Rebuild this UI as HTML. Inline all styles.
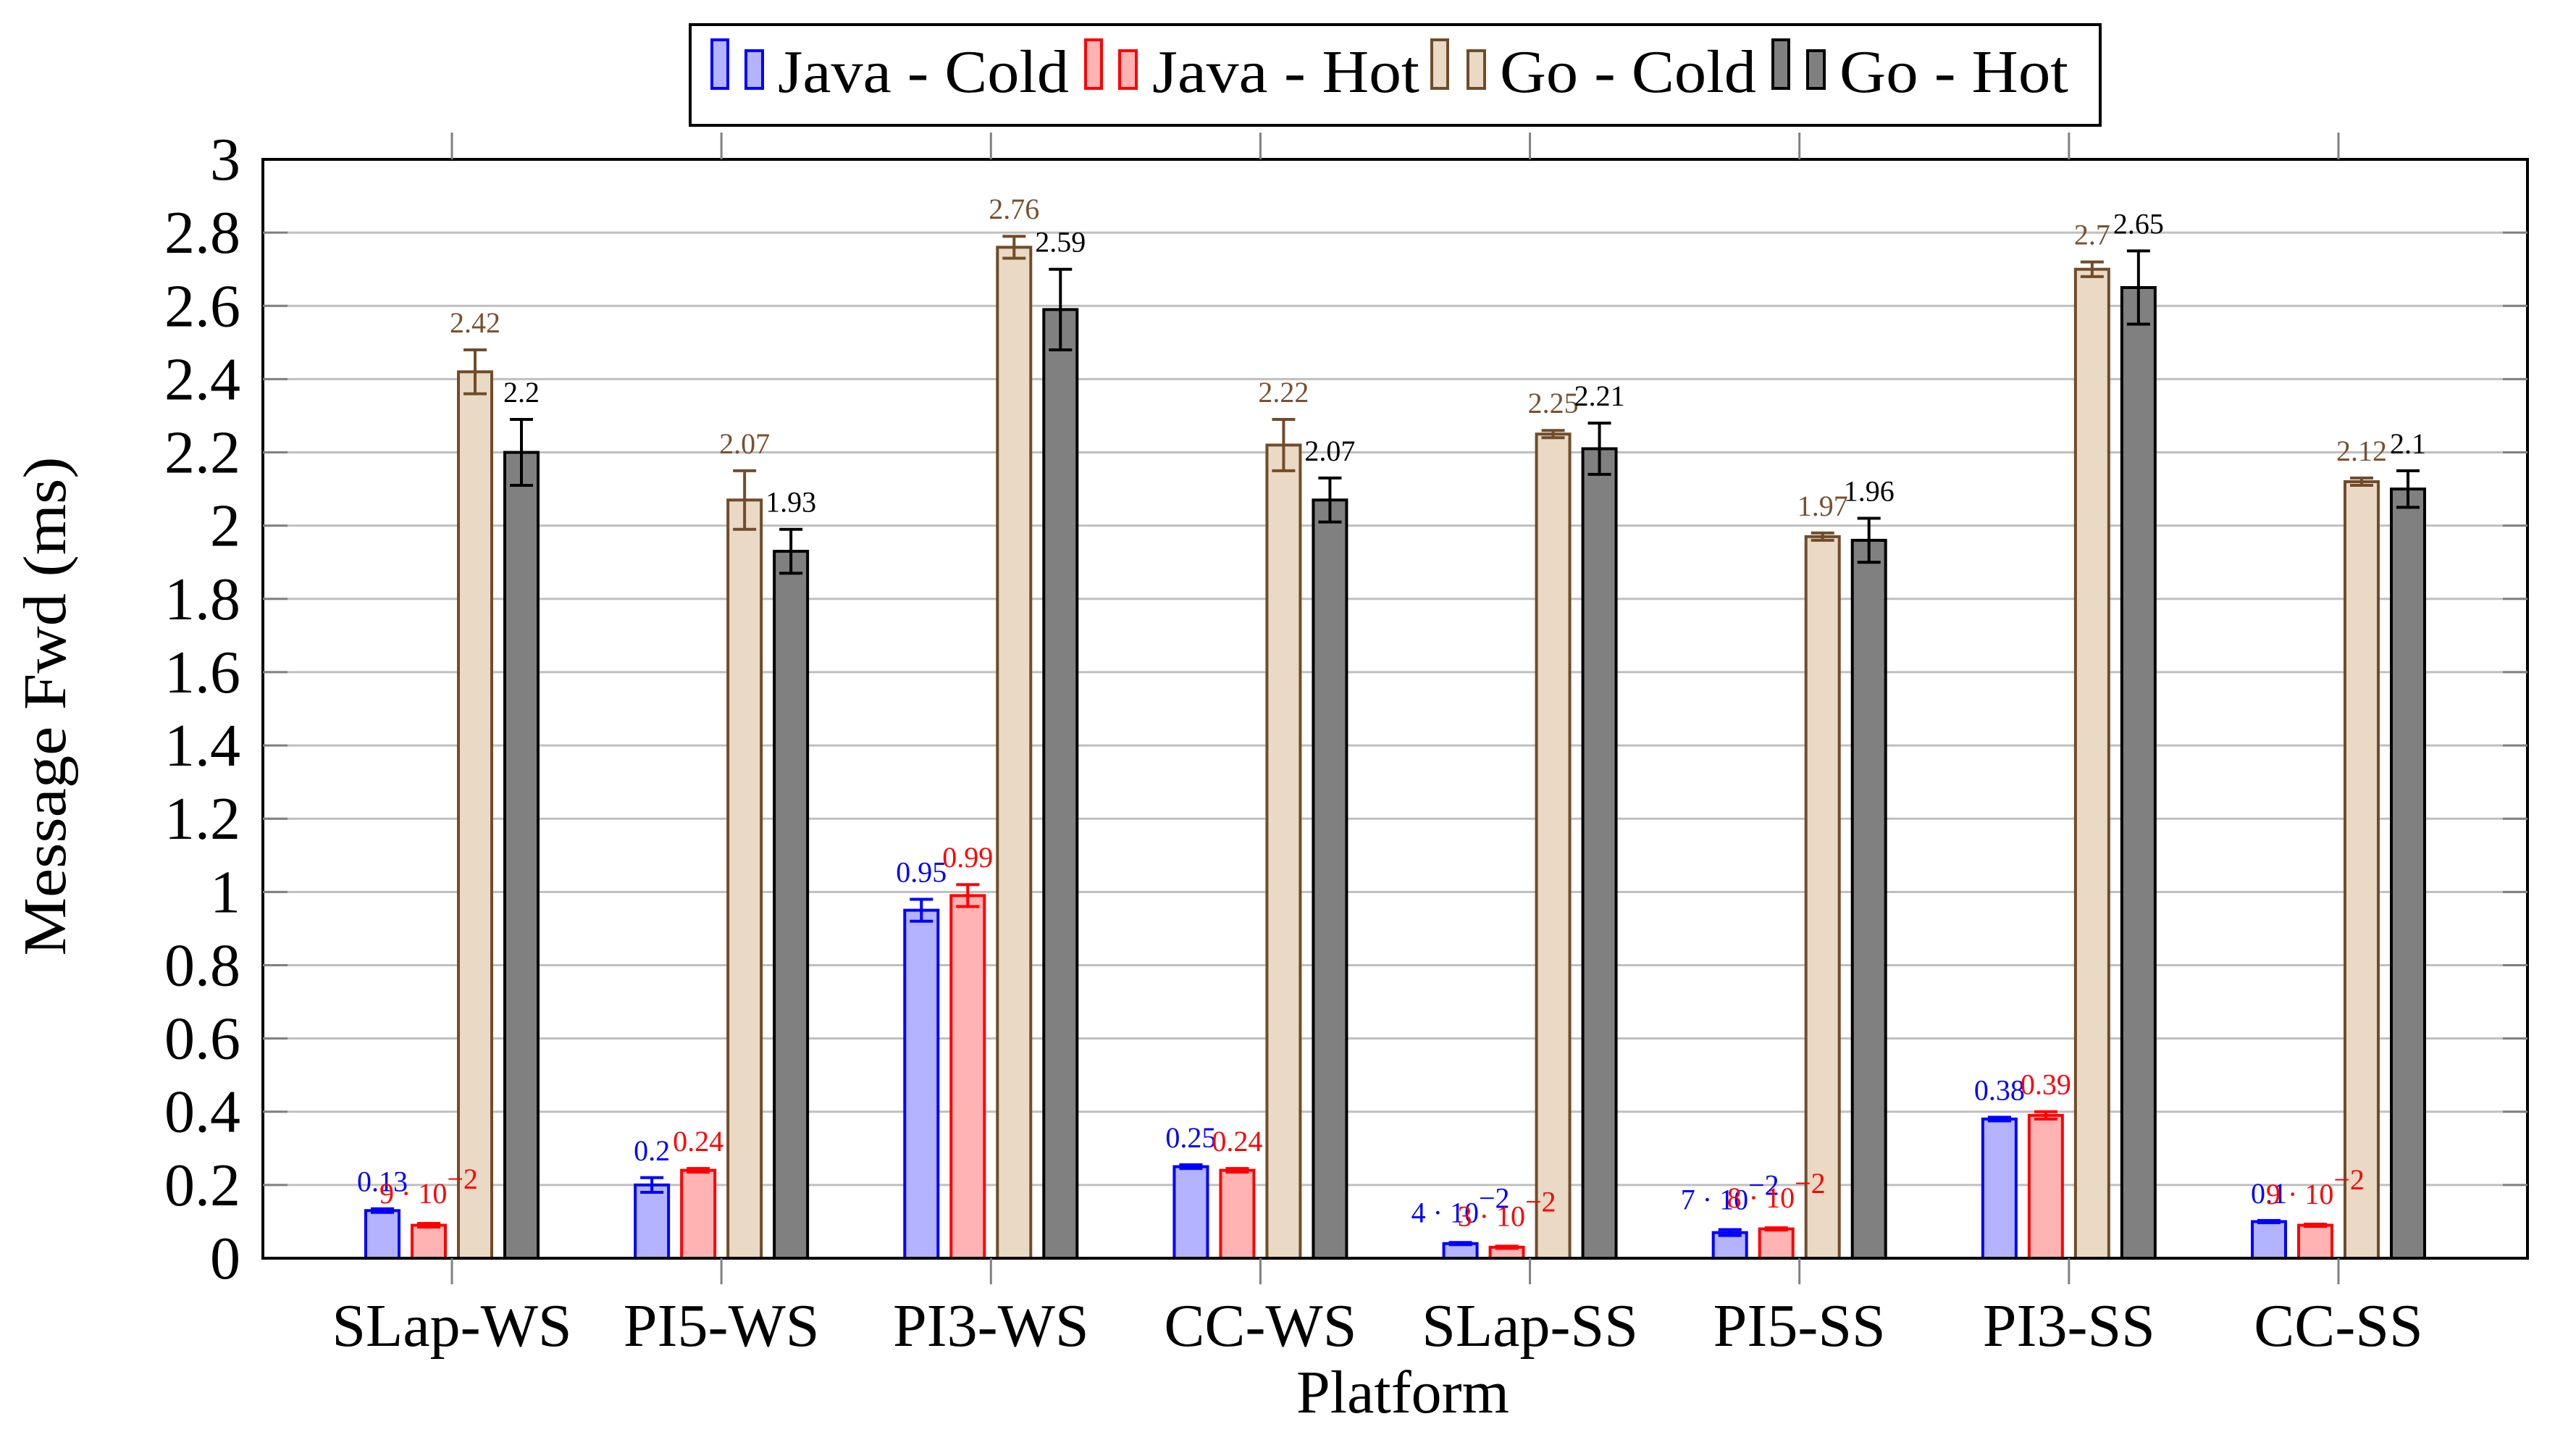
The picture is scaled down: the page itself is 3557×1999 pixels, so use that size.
<!DOCTYPE html>
<html><head><meta charset="utf-8"><style>
html,body{margin:0;padding:0;background:#fff}
svg{display:block;font-family:"Liberation Serif",serif}
</style></head><body>
<svg id="chart" width="3557" height="1999" viewBox="0 0 3557 1999" xmlns="http://www.w3.org/2000/svg">
<g id="grid"></g>
<g id="bars"></g>
<g id="labels"></g>
<rect x="363" y="220" width="3127" height="1517" fill="none" stroke="#000" stroke-width="4"/>
<g id="axes"></g>
<text transform="translate(90,975) rotate(-90)" text-anchor="middle" font-size="84" textLength="689" lengthAdjust="spacingAndGlyphs">Message Fwd (ms)</text>
<text x="1937" y="1950" text-anchor="middle" font-size="84">Platform</text>
<g>
<rect x="953" y="34" width="1947" height="139" fill="#fff" stroke="#000" stroke-width="4"/>
<g>
<rect x="983" y="55" width="22" height="67" fill="#b3b3ff" stroke="#0000ff" stroke-width="4"/>
<rect x="1030" y="70" width="23" height="52" fill="#b3b3ff" stroke="#0000ff" stroke-width="4"/>
<text x="1074" y="127" font-size="84" textLength="402" lengthAdjust="spacingAndGlyphs">Java - Cold</text></g>
<g>
<rect x="1499" y="55" width="22" height="67" fill="#ffb3b3" stroke="#ff0000" stroke-width="4"/>
<rect x="1546" y="70" width="23" height="52" fill="#ffb3b3" stroke="#ff0000" stroke-width="4"/>
<text x="1591" y="127" font-size="84" textLength="369" lengthAdjust="spacingAndGlyphs">Java - Hot</text></g>
<g>
<rect x="1977" y="55" width="22" height="67" fill="#ead9c4" stroke="#704c2a" stroke-width="4"/>
<rect x="2027" y="70" width="23" height="52" fill="#ead9c4" stroke="#704c2a" stroke-width="4"/>
<text x="2071" y="127" font-size="84" textLength="354" lengthAdjust="spacingAndGlyphs">Go - Cold</text></g>
<g>
<rect x="2448" y="55" width="22" height="67" fill="#808080" stroke="#000" stroke-width="4"/>
<rect x="2496" y="70" width="23" height="52" fill="#808080" stroke="#000" stroke-width="4"/>
<text x="2540" y="127" font-size="84" textLength="316" lengthAdjust="spacingAndGlyphs">Go - Hot</text></g>
</g>
</svg>
<script>
const categories = ["SLap-WS","PI5-WS","PI3-WS","CC-WS","SLap-SS","PI5-SS","PI3-SS","CC-SS"];
const javaCold = [0.13,0.2,0.95,0.25,0.04,0.07,0.38,0.1];
const javaColdErr = [0.005,0.02,0.03,0.005,0.003,0.008,0.005,0.003];
const javaHot = [0.09,0.24,0.99,0.24,0.03,0.08,0.39,0.09];
const javaHotErr = [0.005,0.005,0.03,0.005,0.003,0.003,0.01,0.003];
const goCold = [2.42,2.07,2.76,2.22,2.25,1.97,2.7,2.12];
const goColdErr = [0.06,0.08,0.03,0.07,0.01,0.01,0.02,0.01];
const goHot = [2.2,1.93,2.59,2.07,2.21,1.96,2.65,2.1];
const goHotErr = [0.09,0.06,0.11,0.06,0.07,0.06,0.1,0.05];
const yTicks = [0,0.2,0.4,0.6,0.8,1,1.2,1.4,1.6,1.8,2,2.2,2.4,2.6,2.8,3];
const yTickLabels = ["0","0.2","0.4","0.6","0.8","1","1.2","1.4","1.6","1.8","2","2.2","2.4","2.6","2.8","3"];

const NS="http://www.w3.org/2000/svg";
const L=363,R=3490,T=220,B=1737;
function y(v){return B-(v/3)*(B-T);}
function x(i){return L+261+i*(R-L-522)/(categories.length-1);}
function mk(tag,attrs,parent){const e=document.createElementNS(NS,tag);for(const k in attrs)e.setAttribute(k,attrs[k]);parent.appendChild(e);return e;}
const grid=document.getElementById('grid'),axes=document.getElementById('axes'),bars=document.getElementById('bars'),labels=document.getElementById('labels');

yTicks.forEach((t,i)=>{
  if(t>0&&t<3){
    const g=mk('line',{x1:L,x2:R,y1:y(t),y2:y(t),stroke:'#bfbfbf','stroke-width':3},grid);
    
    
    mk('line',{x1:L,x2:L+34,y1:y(t),y2:y(t),stroke:'#808080','stroke-width':3},axes);
    mk('line',{x1:R-34,x2:R,y1:y(t),y2:y(t),stroke:'#808080','stroke-width':3},axes);
  }
  const lb=mk('text',{x:332,y:y(t)+28,'text-anchor':'end','font-size':84},axes);
  lb.textContent=yTickLabels[i];
  
  
});
categories.forEach((c,i)=>{
  mk('line',{x1:x(i),x2:x(i),y1:T-37,y2:T,stroke:'#808080','stroke-width':3},axes);
  mk('line',{x1:x(i),x2:x(i),y1:B,y2:B+36,stroke:'#808080','stroke-width':3},axes);
  const lb=mk('text',{x:x(i),y:1858,'text-anchor':'middle','font-size':84},axes);
  lb.textContent=c;
  
  
});

const series=[
 {name:'java-cold',vals:javaCold,err:javaColdErr,fill:'#b3b3ff',stroke:'#0000ff',lc:'#0000ff',off:-96},
 {name:'java-hot',vals:javaHot,err:javaHotErr,fill:'#ffb3b3',stroke:'#ff0000',lc:'#ff0000',off:-32},
 {name:'go-cold',vals:goCold,err:goColdErr,fill:'#ead9c4',stroke:'#704c2a',lc:'#7a5030',off:32},
 {name:'go-hot',vals:goHot,err:goHotErr,fill:'#808080',stroke:'#000000',lc:'#000000',off:96}
];
function fmt(v){
  if(v<0.1){const m=Math.round(v*100);return {m:String(m),sci:true};}
  return {m:String(+v.toFixed(2)),sci:false};
}
series.forEach(s=>{
  s.vals.forEach((v,i)=>{
    const cx=x(i)+s.off;
    const r=mk('rect',{x:cx-23,y:y(v),width:46,height:B-y(v),fill:s.fill,stroke:s.stroke,'stroke-width':4},bars);
    
    
    const e=s.err[i];
    const eg=mk('g',{stroke:s.stroke,'stroke-width':4},bars);
    
    
    mk('line',{x1:cx,x2:cx,y1:y(v+e),y2:y(v-e)},eg);
    mk('line',{x1:cx-16,x2:cx+16,y1:y(v+e),y2:y(v+e)},eg);
    mk('line',{x1:cx-16,x2:cx+16,y1:y(v-e),y2:y(v-e)},eg);
    const f=fmt(v);
    const t=mk('text',{x:cx,y:y(v+e)-(f.sci?28:24),'text-anchor':'middle','font-size':40,fill:s.lc},labels);
    
    
    if(f.sci){
      t.textContent=f.m+' \u00b7 10';
      const sp=mk('tspan',{dy:-20,'font-size':40},t);
      sp.textContent='\u22122';
    } else t.textContent=f.m;
  });
});
</script>
</body></html>
